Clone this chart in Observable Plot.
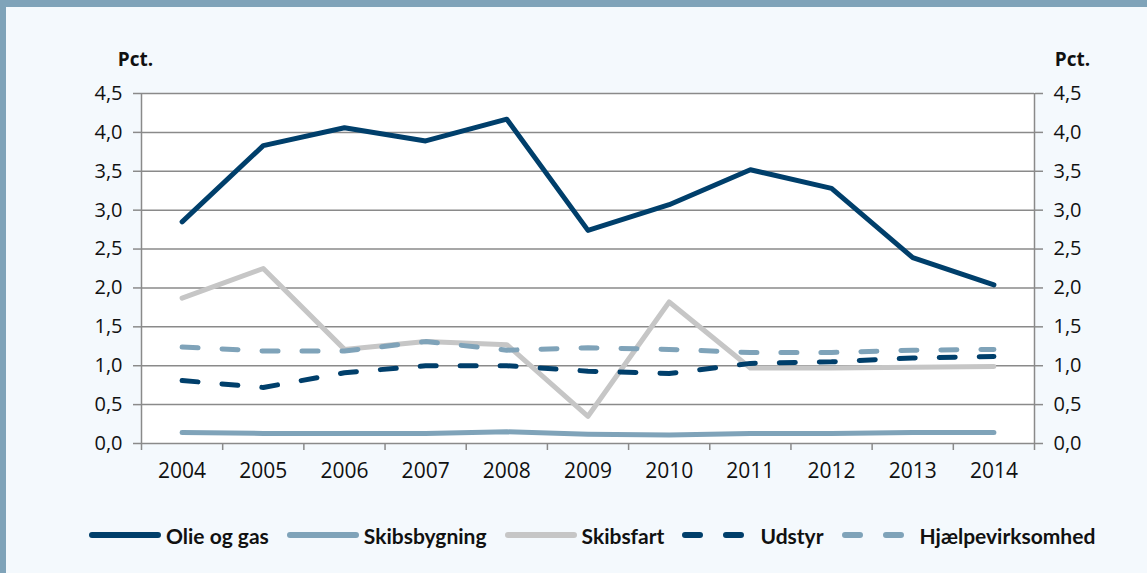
<!DOCTYPE html>
<html>
<head>
<meta charset="utf-8">
<script src="https://cdn.jsdelivr.net/npm/d3@7"></script>
<script src="https://cdn.jsdelivr.net/npm/@observablehq/plot@0.6"></script>
<style>
  html, body { margin: 0; padding: 0; }
  body { width: 1147px; height: 573px; background: #f4f9fd; position: relative; overflow: hidden; font-family: "Open Sans", sans-serif; }
  #band { position: absolute; left: 0; top: 0; width: 1147px; height: 7px; background: #7fa3b9; }
  #strip { position: absolute; left: 0; top: 0; width: 6px; height: 573px; background: #7fa3b9; }
  #chart { position: absolute; left: 0; top: 0; }
  #legend { position: absolute; left: 89px; top: 520px; height: 30px; display: flex; align-items: center; gap: 18px; font-family: Lato, "Open Sans", sans-serif; font-size: 21px; font-weight: 700; color: #111; white-space: nowrap; }
  .item { display: flex; align-items: center; gap: 5px; }
  .item svg { display: block; }
</style>
</head>
<body>
<div id="chart"></div>
<div id="band"></div>
<div id="strip"></div>
<div id="legend"></div>
<script>
const years = [2004, 2005, 2006, 2007, 2008, 2009, 2010, 2011, 2012, 2013, 2014];
const olieOgGas      = [2.85, 3.83, 4.06, 3.89, 4.17, 2.74, 3.07, 3.52, 3.28, 2.39, 2.04];
const skibsbygning   = [0.14, 0.13, 0.13, 0.13, 0.15, 0.12, 0.11, 0.13, 0.13, 0.14, 0.14];
const skibsfart      = [1.87, 2.25, 1.21, 1.31, 1.27, 0.35, 1.82, 0.97, 0.97, 0.98, 0.99];
const udstyr         = [0.81, 0.72, 0.91, 1.00, 1.00, 0.93, 0.90, 1.03, 1.05, 1.10, 1.12];
const hjaelp         = [1.24, 1.19, 1.19, 1.31, 1.20, 1.23, 1.21, 1.17, 1.17, 1.20, 1.21];
const yTicks = [0, 0.5, 1, 1.5, 2, 2.5, 3, 3.5, 4, 4.5];
const axisLabel = "Pct.";

const seriesDefs = [
  {name: "Olie og gas",      values: olieOgGas,    color: "#003f6b", width: 5, dash: null},
  {name: "Skibsbygning",     values: skibsbygning, color: "#7fa3b9", width: 5, dash: null},
  {name: "Skibsfart",        values: skibsfart,    color: "#c6c6c6", width: 5, dash: null},
  {name: "Udstyr",           values: udstyr,       color: "#003f6b", width: 5, dash: "16,24"},
  {name: "Hjælpevirksomhed", values: hjaelp,       color: "#7fa3b9", width: 5, dash: "16,24"}
];

const rows = seriesDefs.flatMap(s => years.map((yr, i) => ({series: s.name, year: yr, value: s.values[i]})));
const bounds = years.map(y => y - 0.5).concat([years[years.length - 1] + 0.5]);
const gridColor = "#8a8a8a";
const fmt = d => d.toFixed(1).replace(".", ",");

const lineMarks = seriesDefs.map(s => Plot.line(rows.filter(r => r.series === s.name), {
  x: "year", y: "value", stroke: s.color, strokeWidth: s.width,
  strokeDasharray: s.dash, strokeLinecap: "round", strokeLinejoin: "round"
}));

const chart = Plot.plot({
  width: 1147, height: 500,
  marginLeft: 141, marginRight: 113, marginTop: 93, marginBottom: 57,
  style: {background: "transparent", fontFamily: "Open Sans", fontSize: "20px", color: "#111"},
  x: {domain: [years[0] - 0.5, years[years.length - 1] + 0.5], axis: null},
  y: {domain: [0, 4.5], axis: null},
  marks: [
    Plot.frame({fill: "white", stroke: null}),
    Plot.gridY({ticks: yTicks, stroke: gridColor, strokeOpacity: 1, strokeWidth: 1.5}),
    Plot.ruleX(bounds.filter((d, i) => i === 0 || i === bounds.length - 1), {stroke: gridColor, strokeWidth: 1.5}),
    Plot.axisY({anchor: "left", ticks: yTicks, tickSize: 8, tickPadding: 11, tickFormat: fmt, stroke: gridColor, strokeWidth: 1.5, fill: "#111", label: null}),
    Plot.axisY({anchor: "right", ticks: yTicks, tickSize: 8, tickPadding: 11, tickFormat: fmt, stroke: gridColor, strokeWidth: 1.5, fill: "#111", label: null}),
    Plot.axisX({ticks: bounds, tickSize: 7, tickFormat: () => "", stroke: gridColor, strokeWidth: 1.5, label: null}),
    Plot.axisX({ticks: years, tickSize: 0, tickPadding: 20, tickFormat: d => String(d), fill: "#111", fontSize: 21, label: null}),
    ...lineMarks,
    Plot.text([axisLabel], {frameAnchor: "top-left", textAnchor: "middle", dx: -6, dy: -41, text: d => d, fontWeight: "bold", fontSize: 19, fill: "#111"}),
    Plot.text([axisLabel], {frameAnchor: "top-right", textAnchor: "middle", dx: 38, dy: -41, text: d => d, fontWeight: "bold", fontSize: 19, fill: "#111"})
  ]
});
document.getElementById("chart").appendChild(chart);

// Legend
const legend = document.getElementById("legend");
for (const s of seriesDefs) {
  const item = document.createElement("div");
  item.className = "item";
  const w = s.dash ? 64 : 72;
  const svg = d3.create("svg").attr("width", w).attr("height", 10);
  svg.append("line")
    .attr("x1", 3).attr("x2", s.dash ? 59 : w - 3)
    .attr("y1", 5).attr("y2", 5)
    .attr("stroke", s.color).attr("stroke-width", 6)
    .attr("stroke-linecap", "round")
    .attr("stroke-dasharray", s.dash ? "15,26" : null);
  item.appendChild(svg.node());
  const label = document.createElement("span");
  label.textContent = s.name;
  if (s.dash) label.style.marginLeft = "9px";
  item.appendChild(label);
  legend.appendChild(item);
}
</script>
</body>
</html>
